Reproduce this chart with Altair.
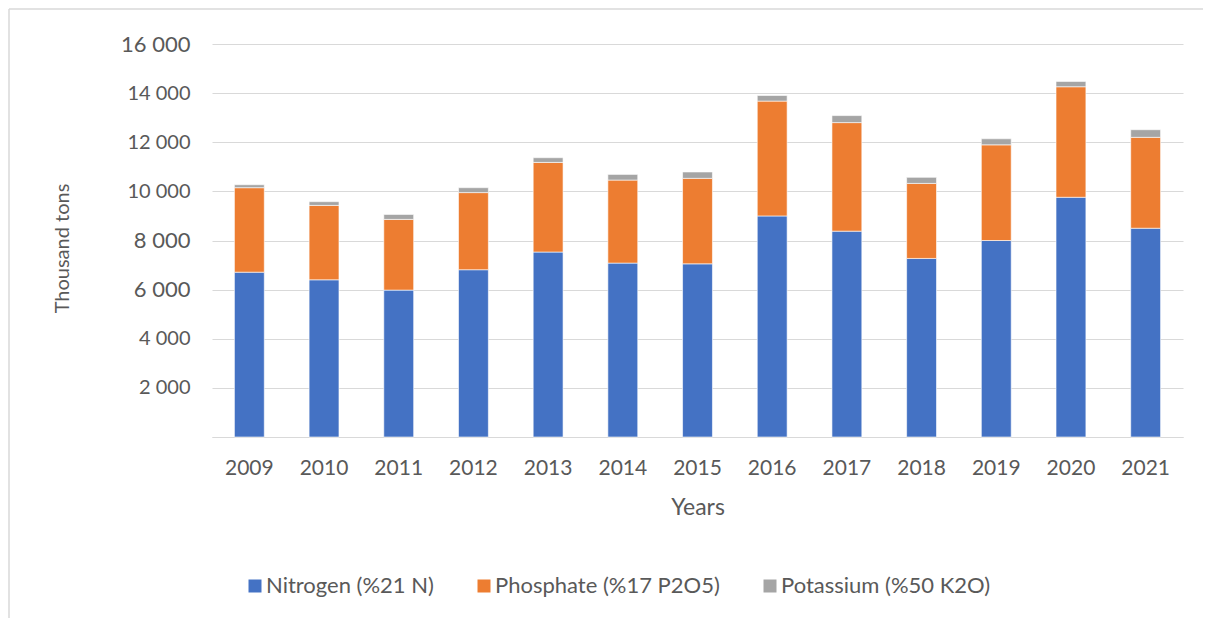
import altair as alt
import pandas as pd

years = ["2009", "2010", "2011", "2012", "2013", "2014", "2015",
         "2016", "2017", "2018", "2019", "2020", "2021"]
nitrogen = [6710, 6400, 5980, 6810, 7530, 7080, 7050, 9000, 8380, 7270, 8000, 9760, 8500]
phosphate = [3440, 3030, 2880, 3140, 3650, 3380, 3480, 4675, 4420, 3055, 3895, 4500, 3700]
potassium = [120, 150, 200, 200, 190, 230, 260, 230, 285, 245, 245, 215, 310]
series = ["Nitrogen (%21 N)", "Phosphate (%17 P2O5)", "Potassium (%50 K2O)"]
colors = ["#4472C4", "#ED7D31", "#A5A5A5"]

rows = []
for i, y in enumerate(years):
    for k, (name, vals) in enumerate(zip(series, [nitrogen, phosphate, potassium])):
        rows.append({"Year": y, "Series": name, "Value": vals[i], "ord": k})
df = pd.DataFrame(rows)

FONT = "Lato"
GREY = "#595959"
BIG = "datum.value == 16000 || datum.value == 8000 || datum.value == 6000"

bars = alt.Chart(df).mark_bar(stroke="white", strokeWidth=0.6).encode(
    x=alt.X("Year:N", sort=years,
            scale=alt.Scale(paddingInner=0.6, paddingOuter=0.3),
            axis=alt.Axis(title="Years", labelAngle=0, labelFontSize=21, titleFontSize=23,
                          labelPadding=20, titlePadding=18, ticks=False,
                          domainColor="#D9D9D9", domainWidth=1.2,
                          labelColor=GREY, titleColor=GREY, titleFontWeight="normal",
                          labelFont=FONT, titleFont=FONT)),
    y=alt.Y("Value:Q", stack="zero",
            scale=alt.Scale(domain=[0, 16000], nice=False),
            axis=alt.Axis(title="Thousand tons", values=list(range(0, 16001, 2000)),
                          labelExpr="datum.value == 0 ? '' : (" + BIG + " ? replace(format(datum.value, ','), ',', '  ') : replace(format(datum.value, ','), ',', ' '))",
                          labelFontSize={"condition": {"test": BIG, "value": 22}, "value": 20},
                          labelPadding=22, ticks=False, domain=False,
                          gridColor="#D9D9D9", gridWidth=1.2,
                          labelColor=GREY, titleColor=GREY, titleFontWeight="normal",
                          titleFontSize=20, labelFont=FONT, titleFont=FONT,
                          titleX=-150, titleY=204, titleAlign="center", titleBaseline="middle")),
    color=alt.Color("Series:N", sort=series,
                    scale=alt.Scale(domain=series, range=colors),
                    legend=alt.Legend(title=None, orient="none", direction="horizontal",
                                      legendX=32, legendY=531, symbolType="square",
                                      symbolSize=169, symbolStrokeWidth=0, labelFontSize=22,
                                      labelColor=GREY, labelFont=FONT, columnPadding=39,
                                      labelOffset=0, labelLimit=400)),
    order=alt.Order("ord:Q"),
)

frame_src = pd.DataFrame({"a": [0]})
top_line = alt.Chart(frame_src).mark_rule(color="#D9D9D9", strokeWidth=1.5).encode(
    x=alt.value(-203), x2=alt.value(991), y=alt.value(-35))
left_line = alt.Chart(frame_src).mark_rule(color="#D9D9D9", strokeWidth=1.5).encode(
    x=alt.value(-203), y=alt.value(-35), y2=alt.value(574))

chart = alt.layer(top_line, left_line, bars).properties(
    width=971, height=393,
    autosize=alt.AutoSizeParams(type="none"),
    padding={"left": 204, "top": 36, "right": 20, "bottom": 181},
).configure_view(stroke=None)

chart.save("out.html", embed_options={"renderer": "svg", "actions": False})
